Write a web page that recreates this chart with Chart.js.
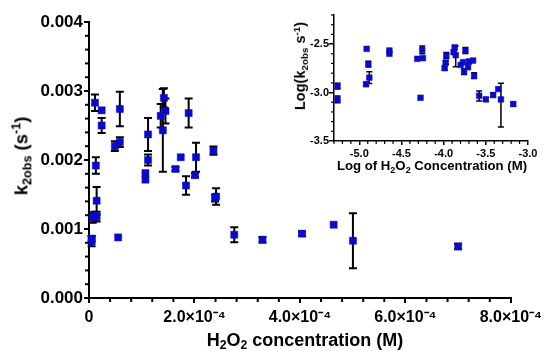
<!DOCTYPE html>
<html lang="en">
<head>
    <meta charset="UTF-8">
    <title>k2obs vs H2O2 concentration</title>
    <script src="https://cdn.jsdelivr.net/npm/chart.js"></script>
    <style>
        body { margin: 0; background: #fff; }
        #wrap { position: relative; width: 547px; height: 351px; overflow: hidden;
                font-family: "Liberation Sans", Arial, sans-serif; font-weight: bold; color: #000; }
        #main { position: absolute; left: 0; top: 0; }
        #inset { position: absolute; left: 280px; top: 0; }
        .ttl { position: absolute; white-space: nowrap; line-height: 1; }
        .rot { transform: translate(-50%, -50%) rotate(-90deg); }
        .hor { transform: translate(-50%, -50%); }
        .sb { font-size: 0.68em; vertical-align: -0.3em; }
        .sp { font-size: 0.68em; vertical-align: 0.55em; }
    </style>
</head>
<body>
<div id="wrap">
    <canvas id="main" width="547" height="351"></canvas>
    <canvas id="inset" width="267" height="180"></canvas>
    <div class="ttl rot" style="left:22px; top:156px; font-size:18.5px;">k<span class="sb">2obs</span> (s<span class="sp">-1</span>)</div>
    <div class="ttl hor" style="left:305px; top:341px; font-size:18px;">H<span class="sb">2</span>O<span class="sb">2</span> concentration (M)</div>
    <div class="ttl rot" style="left:301px; top:66px; font-size:14.5px;">Log(k<span class="sb">2obs</span> s<span class="sp">-1</span>)</div>
    <div class="ttl hor" style="left:432px; top:167px; font-size:13.2px;">Log of H<span class="sb">2</span>O<span class="sb">2</span> Concentration (M)</div>
</div>

<script>
    // main plot: H2O2 concentration (M) vs k2obs (s-1)
    const concM = [1.13e-5, 2.4e-5, 2.4e-5, 1.3e-5, 1.45e-5, 1.45e-5, 7e-6, 1.0e-5, 5e-6, 5e-6,
                   5.53e-5, 4.9e-5, 5.85e-5, 5.85e-5, 1.07e-4, 1.07e-4, 1.12e-4, 1.12e-4, 1.36e-4, 1.42e-4,
                   1.45e-4, 1.40e-4, 1.64e-4, 1.74e-4, 1.89e-4, 1.84e-4, 2.03e-4, 2.01e-4, 2.36e-4, 2.41e-4,
                   2.39e-4, 2.755e-4, 3.29e-4, 4.04e-4, 4.64e-4, 5.005e-4, 7.0e-4];
    const k2obs = [2.83e-3, 2.72e-3, 2.50e-3, 1.92e-3, 1.41e-3, 1.18e-3, 1.16e-3, 1.19e-3, 0.82e-3, 0.86e-3,
                   0.878e-3, 2.20e-3, 2.26e-3, 2.74e-3, 1.81e-3, 1.715e-3, 2.37e-3, 2.00e-3, 2.64e-3, 2.90e-3,
                   2.71e-3, 2.43e-3, 1.87e-3, 2.04e-3, 2.68e-3, 1.63e-3, 2.04e-3, 1.78e-3, 2.135e-3, 1.47e-3,
                   1.45e-3, 0.917e-3, 0.845e-3, 0.932e-3, 1.062e-3, 0.83e-3, 0.748e-3];
    const k2obsErr = [1.2e-4, 0, 1.1e-4, 1.2e-4, 2.0e-4, 7e-5, 7e-5, 6e-5, 7e-5, 4e-5,
                      0, 7e-5, 7e-5, 2.5e-4, 0, 0, 2.4e-4, 8e-5, 1.7e-4, 1.4e-4,
                      1.8e-4, 6.0e-4, 3e-5, 0, 2.1e-4, 1.35e-4, 2.1e-4, 3e-5, 6e-5, 1.2e-4,
                      5e-5, 1.1e-4, 4e-5, 3e-5, 0, 4.0e-4, 4e-5];

    // inset: log-log
    const logConc = [-5.258, -5.258, -4.913, -4.893, -4.881, -4.92, -4.643, -4.643, -4.313, -4.254,
                     -4.246, -4.274, -3.988, -3.976, -3.968, -3.881, -3.869, -3.857, -3.798, -3.77,
                     -3.758, -3.742, -3.711, -3.699, -3.651, -3.639, -3.579, -3.5, -3.413, -3.353,
                     -3.321, -3.175];
    const logK = [-2.933, -3.071, -2.549, -2.707, -2.846, -2.915, -2.566, -2.60, -2.652, -2.559,
                  -2.645, -3.054, -2.749, -2.691, -2.618, -2.583, -2.535, -2.614, -2.715, -2.687,
                  -2.784, -2.566, -2.739, -2.68, -2.670, -2.826, -3.033, -3.071, -3.026, -2.964,
                  -3.071, -3.119];
    const logKErrUp = [0.03, 0.035, 0, 0.03, 0.06, 0.02, 0, 0, 0, 0.04,
                       0, 0, 0.02, 0.02, 0.03, 0.02, 0.02, 0.095, 0, 0,
                       0.03, 0.03, 0, 0.02, 0, 0.03, 0.05, 0.02, 0.02, 0,
                       0.166, 0.02];
    const logKErrDown = [0.03, 0.035, 0, 0.03, 0.06, 0.02, 0, 0, 0, 0.04,
                         0, 0, 0.02, 0.02, 0.03, 0.02, 0.02, 0.12, 0, 0,
                         0.03, 0.03, 0, 0.02, 0, 0.03, 0.055, 0.02, 0.02, 0,
                         0.284, 0.02];

    const mainXTicks = ['0', '2.0×10⁻⁴', '4.0×10⁻⁴', '6.0×10⁻⁴', '8.0×10⁻⁴'];
    const mainYTicks = ['0.000', '0.001', '0.002', '0.003', '0.004'];
    const insetXTicks = ['-5.0', '-4.5', '-4.0', '-3.5', '-3.0'];
    const insetYTicks = ['-3.5', '-3.0', '-2.5'];

    const blue = '#0a0ac8';

    Chart.defaults.font.family = '"Liberation Sans", Arial, sans-serif';
    Chart.defaults.font.weight = 'bold';
    Chart.defaults.color = '#000';

    // error bars, drawn under the squares
    const errorBars = {
        id: 'errorBars',
        beforeDatasetsDraw(chart, args, opts) {
            const ctx = chart.ctx;
            const xs = chart.scales.x, ys = chart.scales.y;
            const pts = chart.data.datasets[0].data;
            ctx.save();
            ctx.strokeStyle = '#000';
            ctx.lineWidth = opts.width;
            pts.forEach(function (p, i) {
                const up = opts.up[i], down = opts.down[i];
                if (!up && !down) return;
                const x = xs.getPixelForValue(p.x);
                const y1 = ys.getPixelForValue(p.y + up);
                const y2 = ys.getPixelForValue(p.y - down);
                ctx.beginPath();
                ctx.moveTo(x, y1); ctx.lineTo(x, y2);
                ctx.moveTo(x - opts.cap, y1); ctx.lineTo(x + opts.cap, y1);
                ctx.moveTo(x - opts.cap, y2); ctx.lineTo(x + opts.cap, y2);
                ctx.stroke();
            });
            ctx.restore();
        }
    };

    // short minor ticks between the labelled ones
    const minorTicks = {
        id: 'minorTicks',
        afterDraw(chart, args, opts) {
            const ctx = chart.ctx;
            ctx.save();
            ctx.strokeStyle = '#000';
            ctx.lineWidth = opts.width;
            ['x', 'y'].forEach(function (id) {
                const s = chart.scales[id];
                const step = opts[id], major = opts[id + 'Major'];
                const n = Math.round((s.max - s.min) / step);
                for (let i = 0; i <= n; i++) {
                    const v = s.min + i * step;
                    const r = v / major;
                    if (Math.abs(r - Math.round(r)) < 1e-6) continue;
                    const p = s.getPixelForValue(v);
                    ctx.beginPath();
                    if (id === 'x') { ctx.moveTo(p, s.top); ctx.lineTo(p, s.top + opts.len); }
                    else { ctx.moveTo(s.right, p); ctx.lineTo(s.right - opts.len, p); }
                    ctx.stroke();
                }
            });
            ctx.restore();
        }
    };

    function axis(min, max, step, labels, fontSize, tickLen, pad, lw, fit) {
        return {
            type: 'linear', min: min, max: max,
            border: { display: true, color: '#000', width: lw },
            grid: { display: true, drawOnChartArea: false, drawTicks: true, tickLength: tickLen, color: '#000', lineWidth: lw },
            ticks: {
                stepSize: step, includeBounds: false, autoSkip: false, maxRotation: 0,
                padding: pad, font: { size: fontSize, weight: 'bold' },
                callback: function (v, i) { return labels[i]; }
            },
            afterFit: fit
        };
    }

    new Chart(document.getElementById('main'), {
        type: 'scatter',
        data: {
            datasets: [{
                data: concM.map(function (x, i) { return { x: x, y: k2obs[i] }; }),
                pointStyle: 'rect', pointRadius: 5, pointBorderWidth: 0.5,
                backgroundColor: blue, borderColor: blue, clip: false
            }]
        },
        options: {
            responsive: false, animation: false,
            layout: { padding: { left: 0, top: 22, right: 34, bottom: 0 } },
            plugins: {
                legend: { display: false }, tooltip: { enabled: false },
                errorBars: { up: k2obsErr, down: k2obsErr, width: 2, cap: 4 },
                minorTicks: { x: 0.4e-4, xMajor: 2e-4, y: 0.0002, yMajor: 0.001, len: 4, width: 2 }
            },
            scales: {
                x: axis(0, 8e-4, 2e-4, mainXTicks, 16, 5, 5, 2, function (s) { s.height = 53; }),
                y: axis(0, 0.004, 0.001, mainYTicks, 17, 5, 1, 2, function (s) { s.width = 89; })
            }
        },
        plugins: [errorBars, minorTicks]
    });

    new Chart(document.getElementById('inset'), {
        type: 'scatter',
        data: {
            datasets: [{
                data: logConc.map(function (x, i) { return { x: x, y: logK[i] }; }),
                pointStyle: 'rect', pointRadius: 4, pointBorderWidth: 0.5,
                backgroundColor: blue, borderColor: blue, clip: false
            }]
        },
        options: {
            responsive: false, animation: false,
            layout: { padding: { left: 0, top: 15, right: 19, bottom: 0 } },
            plugins: {
                legend: { display: false }, tooltip: { enabled: false },
                errorBars: { up: logKErrUp, down: logKErrDown, width: 1.5, cap: 3 },
                minorTicks: { x: 0.1, xMajor: 0.5, y: 0.1, yMajor: 0.5, len: 3, width: 1.2 }
            },
            scales: {
                x: axis(-5.3, -3.0, 0.5, insetXTicks, 11, 4, 2, 1.5, function (s) { s.height = 39; }),
                y: axis(-3.5, -2.2, 0.5, insetYTicks, 11, 5, 0, 1.5, function (s) { s.width = 54; })
            }
        },
        plugins: [errorBars, minorTicks]
    });
</script>
</body>
</html>
